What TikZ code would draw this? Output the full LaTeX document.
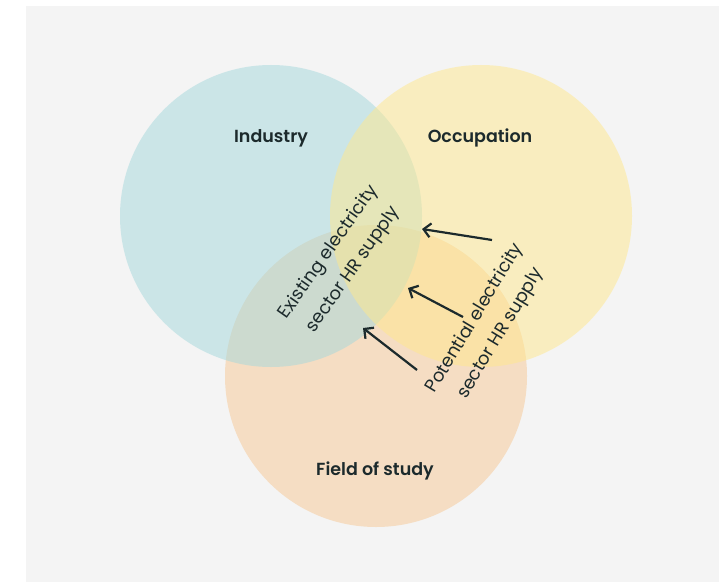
\documentclass[tikz,border=0pt]{standalone}
\usepackage{fontspec}
\setmainfont{Poppins}
\newfontfamily\titlefont{Poppins SemiBold}
\usepackage{tikz}
\usetikzlibrary{arrows.meta,positioning}

\definecolor{bgrey}{RGB}{244,244,244}
\definecolor{indblue}{RGB}{164,216,220}
\definecolor{occyellow}{RGB}{255,232,140}
\definecolor{fldorange}{RGB}{246,200,148}
\definecolor{inkdark}{RGB}{28,42,44}

\begin{document}
\begin{tikzpicture}[
  x=1pt, y=1pt,
  set/.style={fill opacity=0.5, draw=none},
  title/.style={font=\titlefont\fontsize{17.5}{21}\selectfont, text=inkdark},
  note/.style={font=\fontsize{18}{21}\selectfont, text=inkdark, align=center},
  arr/.style={-{Straight Barb[length=7pt, width=14pt, line width=2.2pt]}, line width=2.2pt, draw=inkdark}
]

% Background
\fill[bgrey] (26,0) rectangle (719,576);
\useasboundingbox (0,0) rectangle (719,582);

% Sets
\fill[set, fldorange] (376,206) circle (151);
\fill[set, indblue] (271,366) circle (151);
\fill[set, occyellow] (481,366) circle (151);

% Titles
\node[title] (ind) at (271,444) {Industry};
\node[title] (occ) at (480,444) {Occupation};
\node[title] (fld) at (375,111) {Field of study};

% Rotated notes
\node[note, rotate=55] (exist) at (341,321) {Existing electricity\\[9pt]sector HR supply};
\node[note, rotate=59] (pot) at (488,256) {Potential electricity\\[9pt]sector HR supply};

% Arrow ends
\coordinate (t1) at (492,342);
\coordinate (h1) at (422,353);
\coordinate (t2) at (463,265);
\coordinate (h2) at (408,294);
\coordinate (t3) at (417,212);
\coordinate (h3) at (363,254);

\draw[arr] (t1) -- (h1);
\draw[arr] (t2) -- (h2);
\draw[arr] (t3) -- (h3);

\end{tikzpicture}
\end{document}
